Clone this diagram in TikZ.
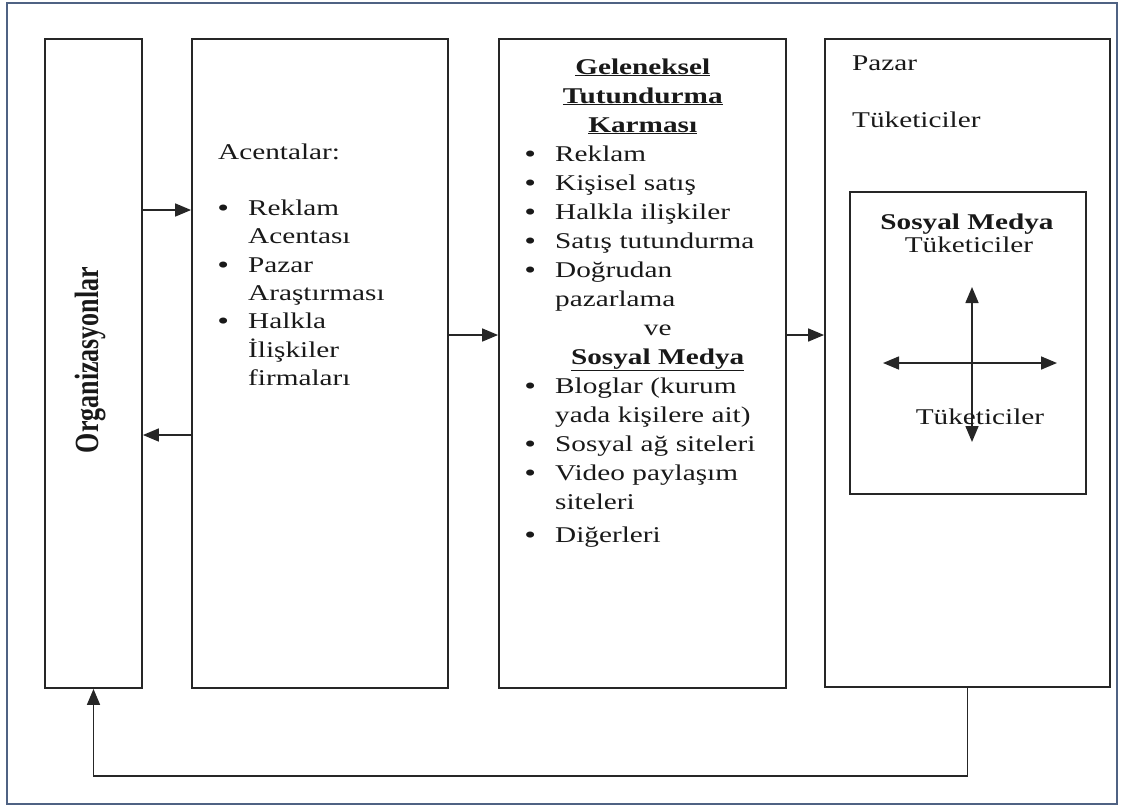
\documentclass[tikz,border=0pt]{standalone}
\usepackage{fontspec}
\usepackage{graphicx}
\setmainfont{Liberation Serif}[FakeStretch=1.3]
\newfontfamily\orgfont{Liberation Serif}
\usetikzlibrary{arrows.meta, positioning}
\definecolor{framecolor}{HTML}{4F6283}
\definecolor{boxcolor}{HTML}{262626}
% bullet item with hanging indent
\newcommand{\bul}{\par\noindent\hangindent=30pt\hangafter=1\makebox[30pt][l]{\textbf{\textbullet}}}

\begin{document}
\begin{tikzpicture}[x=1pt, y=-1pt,
  every node/.style={font=\fontsize{22.5}{28.3}\selectfont},
  box/.style={draw=boxcolor, line width=1.8pt, inner sep=0pt},
  arr/.style={-{Triangle[length=16pt,width=13pt]}, line width=1.6pt, draw=boxcolor},
  arrboth/.style={{Triangle[length=16pt,width=13pt]}-{Triangle[length=16pt,width=13pt]}, line width=1.6pt, draw=boxcolor},
  txt/.style={inner sep=0pt, anchor=base west, text=black!90}]
  \useasboundingbox (0,0) rectangle (1123,807);
  \draw[framecolor, line width=2pt] (7,3) rectangle (1117,804);

  % the four columns
  \node[box, minimum width=97pt, minimum height=649pt] (org) at (93.5,363.5) {};
  \node[box, minimum width=256pt, minimum height=649pt] (ag) at (320,363.5) {};
  \node[box, minimum width=287pt, minimum height=649pt] (mid) at (642.5,363.5) {};
  \node[box, minimum width=285pt, minimum height=648pt] (mkt) at (967.5,363) {};
  \node[box, minimum width=236pt, minimum height=302pt] (sm) at (968,343) {};

  \node[rotate=90, inner sep=0pt, text=black!90] (orglabel) at (91,360)
       {\orgfont\bfseries\fontsize{26}{30}\selectfont\scalebox{1}[1.3]{Organizasyonlar}};

  \node[txt, text width=240pt] (agtext) at (218,159) {%
    Acentalar:\par\mbox{}
    \bul Reklam\newline Acentası
    \bul Pazar\newline Araştırması
    \bul Halkla\newline İlişkiler\newline firmaları\par};

  \node[txt, text width=300pt, font=\fontsize{22.5}{29}\selectfont] (midtext) at (525,74) {%
    \noindent\makebox[235pt]{\textbf{\underline{Geleneksel}}}\par
    \noindent\makebox[235pt]{\textbf{\underline{Tutundurma}}}\par
    \noindent\makebox[235pt]{\textbf{\underline{Karması}}}
    \bul Reklam
    \bul Kişisel satış
    \bul Halkla ilişkiler
    \bul Satış tutundurma
    \bul Doğrudan\newline pazarlama\par
    \noindent\hspace*{30pt}\makebox[205pt]{ve}\par
    \noindent\hspace*{30pt}\makebox[205pt]{\textbf{\underline{Sosyal Medya}}}
    \bul Bloglar (kurum\newline yada kişilere ait)
    \bul Sosyal ağ siteleri
    \bul Video paylaşım\newline siteleri\par\vspace{4pt}
    \bul Diğerleri\par};

  \node[txt] (pazar) at (852,70) {Pazar};
  \node[txt] (tuk) at (852,127) {Tüketiciler};
  \node[inner sep=0pt, anchor=base, text=black!90] (smhead) at (967,229) {\textbf{Sosyal Medya}};
  \node[inner sep=0pt, anchor=base, text=black!90] (smtuk) at (969,252) {Tüketiciler};

  % cross of arrows between consumers
  \coordinate (up) at (972,287);
  \coordinate (down) at (972,442);
  \coordinate (lt) at (883,363);
  \coordinate (rt) at (1057,363);
  \draw[arrboth] (up) -- (down);
  \draw[arrboth] (lt) -- (rt);
  \node[inner sep=0pt, anchor=base, text=black!90] (smtuk2) at (980,424) {Tüketiciler};

  % flows between columns
  \draw[arr] (org.east |- 0,210) -- (ag.west |- 0,210);
  \draw[arr] (ag.west |- 0,435) -- (org.east |- 0,435);
  \draw[arr] (ag.east |- 0,335) -- (mid.west |- 0,335);
  \draw[arr] (mid.east |- 0,335) -- (mkt.west |- 0,335);
  \draw[arr] (mkt.south) -- ++(0,88) -| (org.south);
\end{tikzpicture}
\end{document}
